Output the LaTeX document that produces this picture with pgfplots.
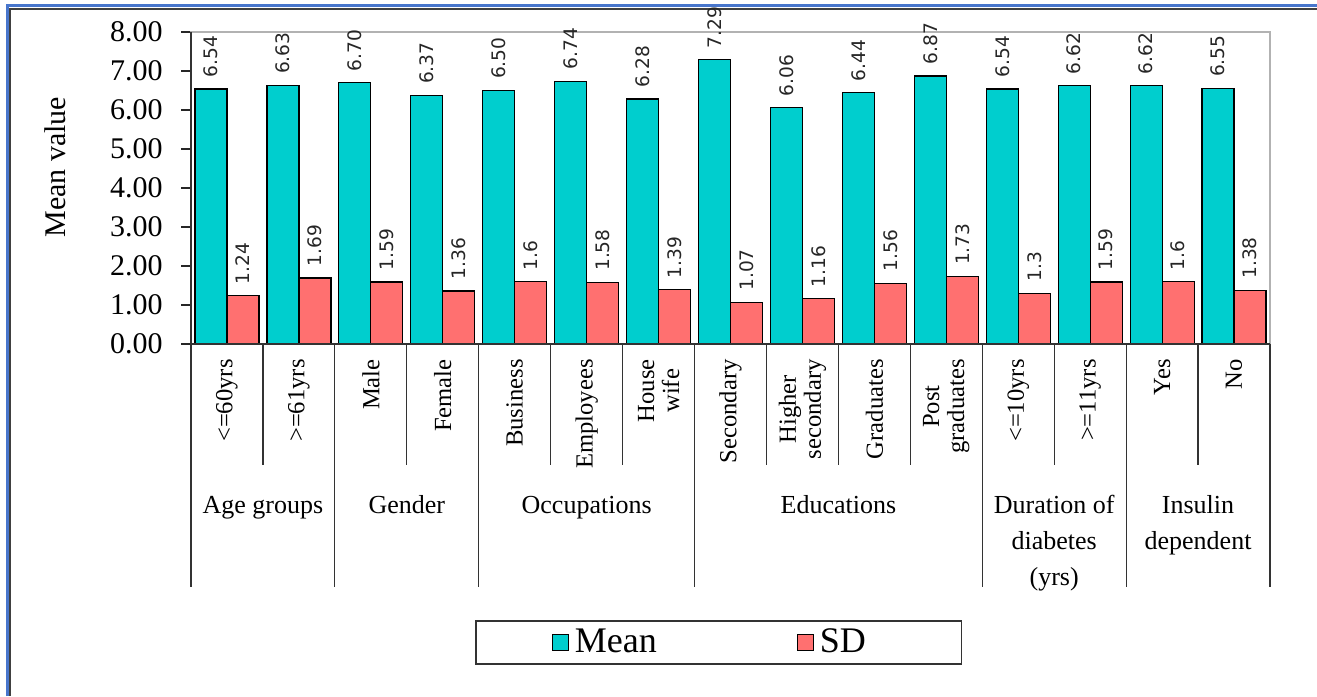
\documentclass[border=0pt]{standalone}
\usepackage{fontspec}
\setmainfont{Liberation Serif}
\newfontfamily\valfont{DejaVu Sans}
\usepackage{pgfplots}
\pgfplotsset{compat=1.18}

\definecolor{meancol}{RGB}{0,206,206}
\definecolor{sdcol}{RGB}{255,112,112}
\definecolor{frameblue}{RGB}{72,118,204}

\begin{document}
\begin{tikzpicture}[x=1pt,y=1pt]
\useasboundingbox (0,0) rectangle (658.5,348);
% page frame
\draw[frameblue, line width=1.5pt] (3.5,0) -- (3.5,345) -- (658.5,345);
\draw[black!75, line width=0.75pt] (5,0) -- (5,343.5) -- (658.5,343.5);

\begin{axis}[
  at={(95.5pt,176pt)}, anchor=south west,
  scale only axis, width=539.5pt, height=156pt,
  clip=false,
  ybar=0pt, bar width=16pt,
  xmin=-0.5, xmax=14.5, ymin=0, ymax=8,
  xtick={0,...,14},
  xticklabels={<=60yrs, >=61yrs, Male, Female, Business, Employees, {House\\wife},
               Secondary, {Higher\\secondary}, Graduates, {Post\\graduates},
               <=10yrs, >=11yrs, Yes, No},
  x tick label style={rotate=90, anchor=east, align=center, inner sep=0pt,
                      font=\fontsize{12.3}{12.5}\selectfont, xshift=-2pt},
  xticklabel shift=0.5pt,
  xtick style={draw=none},
  ytick={0,...,8},
  y tick label style={/pgf/number format/fixed, /pgf/number format/fixed zerofill,
                      /pgf/number format/precision=2,
                      /pgf/number format/assume math mode=true,
                      inner sep=0pt, font=\fontsize{15}{18}\selectfont},
  yticklabel shift=9pt,
  tick align=outside, tick pos=left, major tick length=5pt,
  ytick style={black!85, line width=0.6pt},
  axis line style={draw=gray!60, line width=0.8pt},
  ylabel={Mean value},
  ylabel style={at={(axis description cs:-0.126,0.567)}, anchor=center,
                font=\fontsize{15}{18}\selectfont},
  nodes near coords, point meta=explicit symbolic,
  every node near coord/.append style={font=\valfont\fontsize{9.3}{10}\selectfont,
      rotate=90, anchor=west, inner xsep=5.5pt, inner ysep=0pt, black!85},
  legend columns=2,
  legend image code/.code={\draw[#1, draw=black, line width=0.6pt]
      (0pt,-3.9pt) rectangle (7.8pt,3.9pt);},
  legend style={at={(axis description cs:0.4893,-0.9567)}, anchor=center,
      draw=black!80, line width=0.7pt, inner xsep=38pt, inner ysep=4pt,
      nodes={inner sep=0pt}, font=\fontsize{18}{20}\selectfont},
]
\addplot[fill=meancol, draw=black, line width=0.6pt] coordinates {
  (0,6.54) [6.54] (1,6.63) [6.63] (2,6.70) [6.70] (3,6.37) [6.37]
  (4,6.50) [6.50] (5,6.74) [6.74] (6,6.28) [6.28] (7,7.29) [7.29]
  (8,6.06) [6.06] (9,6.44) [6.44] (10,6.87) [6.87] (11,6.54) [6.54]
  (12,6.62) [6.62] (13,6.62) [6.62] (14,6.55) [6.55]
};
\addlegendentry{\makebox[114pt][l]{\hspace*{3pt}Mean}}
\addplot[fill=sdcol, draw=black, line width=0.6pt] coordinates {
  (0,1.24) [1.24] (1,1.69) [1.69] (2,1.59) [1.59] (3,1.36) [1.36]
  (4,1.6) [1.6] (5,1.58) [1.58] (6,1.39) [1.39] (7,1.07) [1.07]
  (8,1.16) [1.16] (9,1.56) [1.56] (10,1.73) [1.73] (11,1.3) [1.3]
  (12,1.59) [1.59] (13,1.6) [1.6] (14,1.38) [1.38]
};
\addlegendentry{\makebox[36pt][l]{\hspace*{3pt}SD}}

% darker left and bottom axis lines
\draw[black!80, line width=1pt] (rel axis cs:0,1) -- (rel axis cs:0,0) -- (rel axis cs:1,0);

% separators between categories (short) and between groups (long)
\draw[black!80, line width=0.6pt] (axis cs:0.5,0) -- ++(0pt,-60.5pt);
\draw[black!80, line width=0.6pt] (axis cs:2.5,0) -- ++(0pt,-60.5pt);
\draw[black!80, line width=0.6pt] (axis cs:4.5,0) -- ++(0pt,-60.5pt);
\draw[black!80, line width=0.6pt] (axis cs:5.5,0) -- ++(0pt,-60.5pt);
\draw[black!80, line width=0.6pt] (axis cs:7.5,0) -- ++(0pt,-60.5pt);
\draw[black!80, line width=0.6pt] (axis cs:8.5,0) -- ++(0pt,-60.5pt);
\draw[black!80, line width=0.6pt] (axis cs:9.5,0) -- ++(0pt,-60.5pt);
\draw[black!80, line width=0.6pt] (axis cs:11.5,0) -- ++(0pt,-60.5pt);
\draw[black!80, line width=0.6pt] (axis cs:13.5,0) -- ++(0pt,-60.5pt);
\draw[black!80, line width=0.6pt] (axis cs:-0.5,0) -- ++(0pt,-121.5pt);
\draw[black!80, line width=0.6pt] (axis cs:1.5,0) -- ++(0pt,-121.5pt);
\draw[black!80, line width=0.6pt] (axis cs:3.5,0) -- ++(0pt,-121.5pt);
\draw[black!80, line width=0.6pt] (axis cs:6.5,0) -- ++(0pt,-121.5pt);
\draw[black!80, line width=0.6pt] (axis cs:10.5,0) -- ++(0pt,-121.5pt);
\draw[black!80, line width=0.6pt] (axis cs:12.5,0) -- ++(0pt,-121.5pt);
\draw[black!80, line width=0.6pt] (axis cs:14.5,0) -- ++(0pt,-121.5pt);

% group names
\begin{scope}[every node/.style={font=\fontsize{13}{18}\selectfont, anchor=base, inner sep=0pt}]
\node at ([yshift=-84.5pt]axis cs:0.5,0) {Age groups};
\node at ([yshift=-84.5pt]axis cs:2.5,0) {Gender};
\node at ([yshift=-84.5pt]axis cs:5,0) {Occupations};
\node at ([yshift=-84.5pt]axis cs:8.5,0) {Educations};
\node at ([yshift=-84.5pt]axis cs:11.5,0) {\begin{tabular}[t]{@{}c@{}}Duration of\\diabetes\\(yrs)\end{tabular}};
\node at ([yshift=-84.5pt]axis cs:13.5,0) {\begin{tabular}[t]{@{}c@{}}Insulin\\dependent\end{tabular}};
\end{scope}
\end{axis}
\end{tikzpicture}
\end{document}
